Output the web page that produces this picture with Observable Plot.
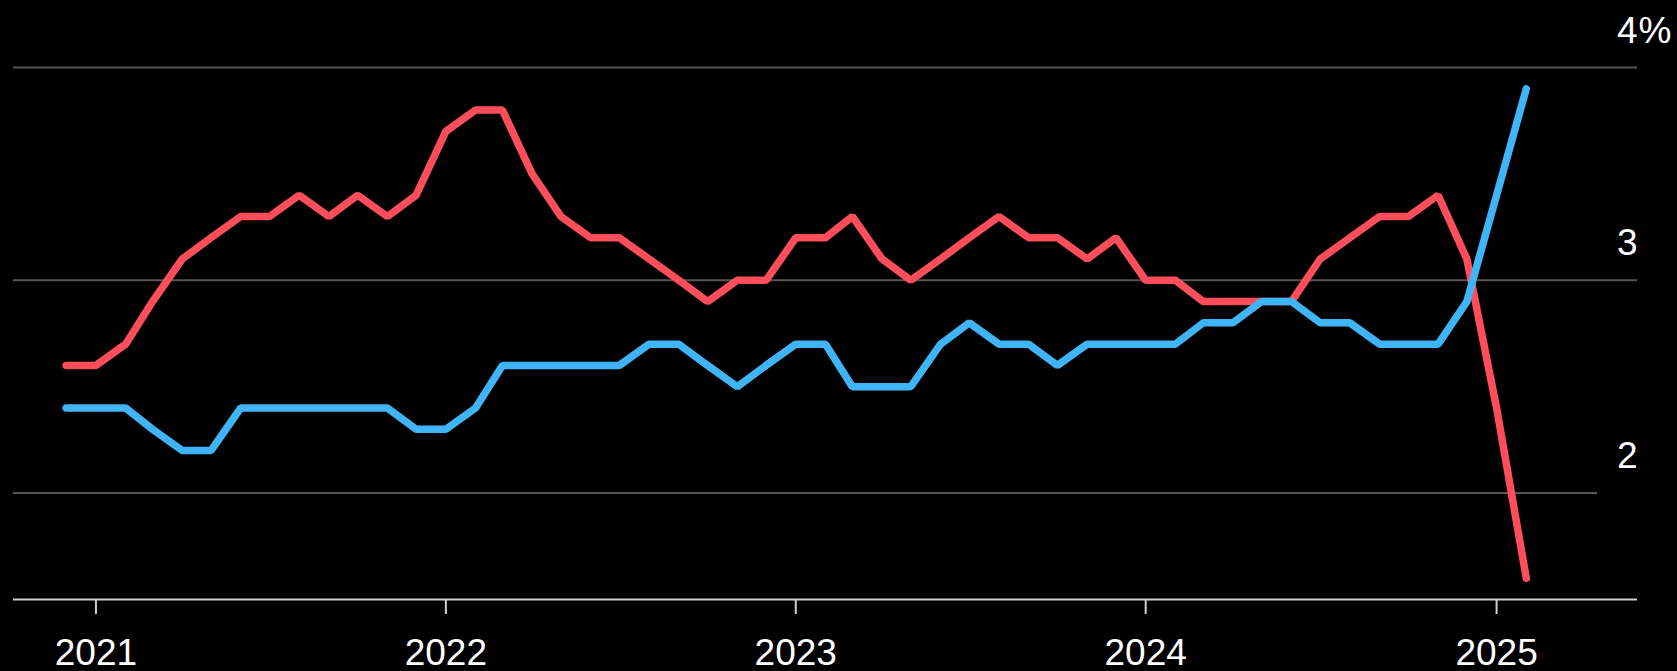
<!DOCTYPE html>
<html>
<head>
<meta charset="utf-8">
<script src="https://cdn.jsdelivr.net/npm/d3@7"></script>
<script src="https://cdn.jsdelivr.net/npm/@observablehq/plot@0.6"></script>
<style>
  html, body { margin: 0; padding: 0; background: #000; }
</style>
</head>
<body>
<div id="chart"></div>
<script>
// Monthly observations, Dec 2020 – Feb 2025
const months = [
  "2020-12",
  "2021-01","2021-02","2021-03","2021-04","2021-05","2021-06","2021-07","2021-08","2021-09","2021-10","2021-11","2021-12",
  "2022-01","2022-02","2022-03","2022-04","2022-05","2022-06","2022-07","2022-08","2022-09","2022-10","2022-11","2022-12",
  "2023-01","2023-02","2023-03","2023-04","2023-05","2023-06","2023-07","2023-08","2023-09","2023-10","2023-11","2023-12",
  "2024-01","2024-02","2024-03","2024-04","2024-05","2024-06","2024-07","2024-08","2024-09","2024-10","2024-11","2024-12",
  "2025-01","2025-02"
];

// Red series (%)
const redValues = [
  2.6,
  2.6, 2.7, 2.9, 3.1, 3.2, 3.3, 3.3, 3.4, 3.3, 3.4, 3.3, 3.4,
  3.7, 3.8, 3.8, 3.5, 3.3, 3.2, 3.2, 3.1, 3.0, 2.9, 3.0, 3.0,
  3.2, 3.2, 3.3, 3.1, 3.0, 3.1, 3.2, 3.3, 3.2, 3.2, 3.1, 3.2,
  3.0, 3.0, 2.9, 2.9, 2.9, 2.9, 3.1, 3.2, 3.3, 3.3, 3.4, 3.1,
  2.4, 1.6
];

// Blue series (%)
const blueValues = [
  2.4,
  2.4, 2.4, 2.3, 2.2, 2.2, 2.4, 2.4, 2.4, 2.4, 2.4, 2.4, 2.3,
  2.3, 2.4, 2.6, 2.6, 2.6, 2.6, 2.6, 2.7, 2.7, 2.6, 2.5, 2.6,
  2.7, 2.7, 2.5, 2.5, 2.5, 2.7, 2.8, 2.7, 2.7, 2.6, 2.7, 2.7,
  2.7, 2.7, 2.8, 2.8, 2.9, 2.9, 2.8, 2.8, 2.7, 2.7, 2.7, 2.9,
  3.4, 3.9
];

const yearTicks = ["2021", "2022", "2023", "2024", "2025"];
const gridValues = [2, 3, 4];
const axisFloor = 1.5;

const parseMonth = d3.utcParse("%Y-%m");
const redData = months.map((m, i) => ({date: parseMonth(m), value: redValues[i]}));
const blueData = months.map((m, i) => ({date: parseMonth(m), value: blueValues[i]}));
const yearDates = yearTicks.map(y => d3.utcParse("%Y")(y));

const labelFont = 37;

const chart = Plot.plot({
  width: 1677,
  height: 671,
  marginLeft: 13,
  marginRight: 40,
  marginTop: 67,
  marginBottom: 72,
  x: {type: "utc", domain: [new Date("2020-10-07"), new Date("2025-05-28")], axis: null},
  y: {domain: [axisFloor, 4], axis: null},
  style: {background: "#000", color: "#fff", fontFamily: "'Liberation Sans', Arial, sans-serif", overflow: "visible"},
  marks: [
    // horizontal gridlines; the lowest one stops short of the label column
    Plot.ruleY(gridValues.filter(v => v !== 2), {stroke: "#565656", strokeWidth: 2}),
    Plot.ruleY(gridValues.filter(v => v === 2), {stroke: "#565656", strokeWidth: 2, insetRight: 40}),
    // baseline
    Plot.ruleY([axisFloor], {stroke: "#cfcfcf", strokeWidth: 2}),
    Plot.axisX({
      ticks: yearDates,
      tickFormat: d3.utcFormat("%Y"),
      tickSize: 15,
      tickPadding: 24,
      fontSize: labelFont,
      stroke: "#cfcfcf",
      strokeWidth: 2,
      fill: "#fff"
    }),
    // value labels sit above their gridlines, right-aligned
    Plot.text(gridValues, {
      y: d => d,
      text: d => String(d),
      frameAnchor: "right",
      textAnchor: "end",
      lineAnchor: "bottom",
      dy: -25,
      fill: "#fff",
      fontSize: labelFont
    }),
    // the percent sign hangs past the right edge of the top label
    Plot.text(gridValues.filter(v => v === 4), {
      y: d => d,
      text: () => "%",
      frameAnchor: "right",
      textAnchor: "start",
      lineAnchor: "bottom",
      dx: 1,
      dy: -25,
      fill: "#fff",
      fontSize: labelFont
    }),
    Plot.line(redData, {x: "date", y: "value", stroke: "#ff4e5b", strokeWidth: 7.5, strokeLinecap: "round", strokeLinejoin: "miter"}),
    Plot.line(blueData, {x: "date", y: "value", stroke: "#3fb5f7", strokeWidth: 7.5, strokeLinecap: "round", strokeLinejoin: "miter"})
  ]
});

document.getElementById("chart").appendChild(chart);
</script>
</body>
</html>
